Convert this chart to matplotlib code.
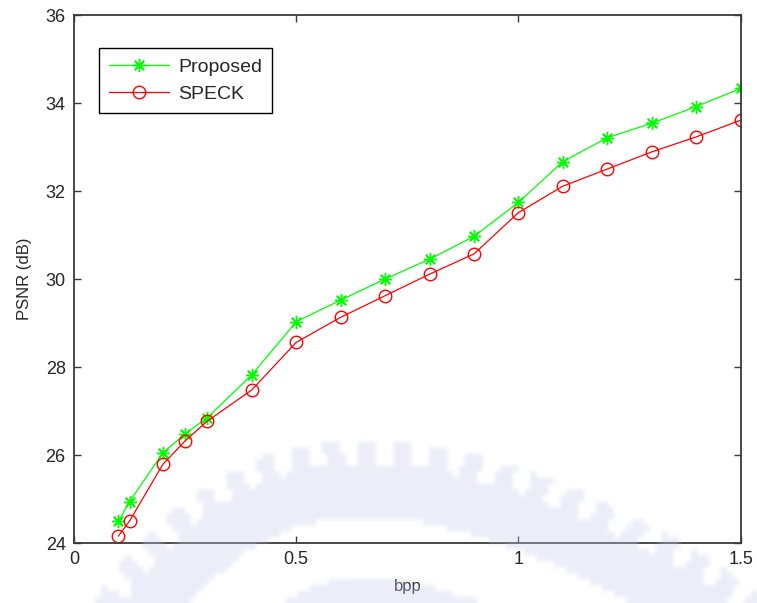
import numpy as np
import matplotlib
matplotlib.use("Agg")
import matplotlib.pyplot as plt

plt.rcParams['font.family'] = ['Liberation Sans', 'DejaVu Sans']

# Bit rate (bpp) and PSNR (dB) for each coder
bpp = [0.1, 0.125, 0.2, 0.25, 0.3, 0.4, 0.5, 0.6, 0.7, 0.8, 0.9,
       1.0, 1.1, 1.2, 1.3, 1.4, 1.5]
psnr_proposed = [24.49, 24.94, 26.05, 26.48, 26.85, 27.82, 29.03, 29.52, 30.0,
                 30.45, 30.97, 31.74, 32.67, 33.21, 33.54, 33.92, 34.33]
psnr_speck = [24.16, 24.5, 25.79, 26.32, 26.77, 27.48, 28.56, 29.13, 29.62,
              30.11, 30.57, 31.51, 32.11, 32.5, 32.89, 33.23, 33.61]

xticks = [0, 0.5, 1, 1.5]
xticklabels = ['0', '0.5', '1', '1.5']
yticks = [24, 26, 28, 30, 32, 34, 36]

W, H = 757, 603
fig = plt.figure(figsize=(W / 100, H / 100), dpi=100)
ax = fig.add_axes([74 / W, 1 - 543 / H, (740.7 - 74) / W, (543 - 15) / H])

text_color = '#262626'
spine_color = '#3a3a3a'

ax.plot(bpp, psnr_proposed, color='#00ff00', lw=0.9, marker=(8, 2, 0),
        ms=9.5, mew=1.0, label='Proposed')
ax.plot(bpp, psnr_speck, color='#ff0000', lw=0.9, marker='o', ms=9,
        mfc='none', mew=1.0, label='SPECK')

ax.set_xlim(0, 1.5)
ax.set_ylim(24, 36)
ax.set_xticks(xticks)
ax.set_xticklabels(xticklabels)
ax.set_yticks(yticks)
ax.tick_params(direction='in', length=5, width=1.0, color=spine_color,
               labelcolor=text_color, labelsize=13, top=True, right=True, pad=6)
for sp in ax.spines.values():
    sp.set_color(spine_color)
    sp.set_linewidth(1.3)

ax.set_xlabel('bpp', fontsize=12, color=text_color, labelpad=8)
ax.set_ylabel('PSNR (dB)', fontsize=12, color=text_color, labelpad=10)

leg = ax.legend(loc='upper left', bbox_to_anchor=(0.038, 0.937),
                borderaxespad=0, fontsize=14, handlelength=3.1,
                handletextpad=0.45, labelspacing=0.5, borderpad=0.5,
                fancybox=False, framealpha=1)
leg.get_frame().set_edgecolor('black')
leg.get_frame().set_linewidth(1.0)
for t in leg.get_texts():
    t.set_color(text_color)

# Faint emblem watermark laid over the lower part of the page
blk = 6
gx, gy = np.meshgrid(np.arange(0, W, blk) + blk / 2,
                     np.arange(0, H, blk) + blk / 2)
edge_x = np.array([80, 110, 150, 180, 230, 330, 430, 560, 630, 660, 710, 760])
edge_y = np.array([625, 587, 533, 507, 477, 447, 443, 487, 510, 535, 560, 592])
coef = np.polyfit(edge_x, edge_y, 4)
sx = np.linspace(40, 800, 500)
sy = np.polyval(coef, sx)
seg = np.hypot(np.diff(sx), np.diff(sy))
s = np.concatenate([[0], np.cumsum(seg)])
px = gx.ravel()[:, None]
py = gy.ravel()[:, None]
dist = np.hypot(px - sx[None, :], py - sy[None, :])
idx = dist.argmin(axis=1)
d = dist[np.arange(len(idx)), idx]
inside = gy.ravel() > np.polyval(coef, gx.ravel())
d = np.where(inside, d, -d)
sn = s[idx]
teeth = (d >= 0) & (d < 24) & ((sn % 36) < 19)
band = (d >= 24) & (d < 78)
ring = (d >= 140) & (d < 200)
mask = (teeth | band | ring).reshape(gx.shape).astype(float)
rgba = np.zeros(gx.shape + (4,))
rgba[..., 0] = 200 / 255
rgba[..., 1] = 204 / 255
rgba[..., 2] = 235 / 255
rgba[..., 3] = 0.34 * mask
wm = fig.add_axes([0, 0, 1, 1], zorder=10)
wm.imshow(rgba, extent=(0, W, H, 0), interpolation='bilinear', aspect='auto')
wm.set_xlim(0, W)
wm.set_ylim(H, 0)
wm.axis('off')

fig.savefig('out.png', dpi=100)
